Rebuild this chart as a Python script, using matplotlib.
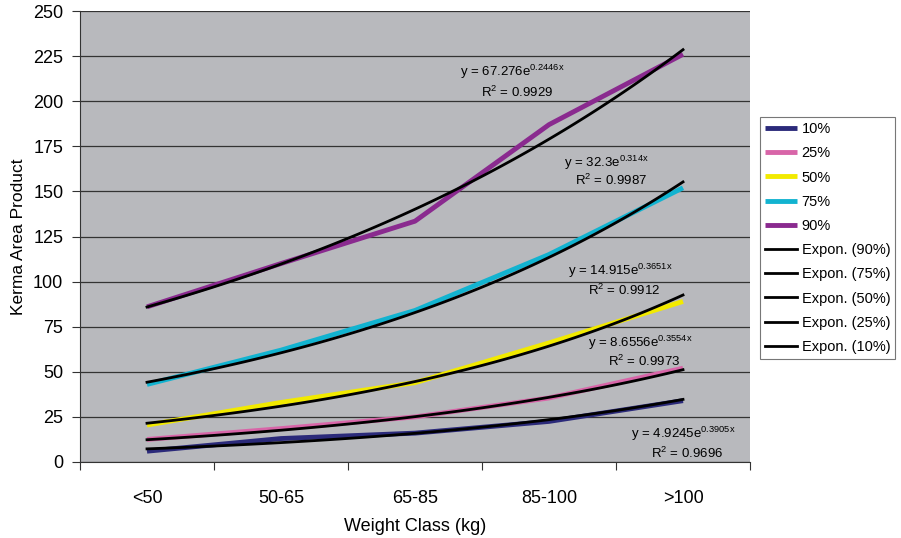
import numpy as np
import matplotlib
matplotlib.use("Agg")
import matplotlib.pyplot as plt

plt.rcParams['font.family'] = ['Liberation Sans', 'DejaVu Sans']
plt.rcParams['mathtext.default'] = 'regular'

# Weight classes and percentile series (Kerma Area Product)
classes = ["<50", "50-65", "65-85", "85-100", ">100"]
p10 = [6, 13, 16, 22.5, 34]
p25 = [12.5, 18.5, 25, 35.5, 52]
p50 = [20.5, 33, 44, 66, 89]
p75 = [43, 62, 84, 115, 152]
p90 = [86, 110, 133.5, 187, 226]

# Exponential trendline coefficients (y = a * e^(b x)) and R^2
fit_a = [67.276, 32.3, 14.915, 8.6556, 4.9245]
fit_b = [0.2446, 0.314, 0.3651, 0.3554, 0.3905]
fit_r2 = ["0.9929", "0.9987", "0.9912", "0.9973", "0.9696"]
fit_names = ["Expon. (90%)", "Expon. (75%)", "Expon. (50%)", "Expon. (25%)", "Expon. (10%)"]

series = [("10%", p10, "#2b2a7a"), ("25%", p25, "#d865a8"),
          ("50%", p50, "#f2ea00"), ("75%", p75, "#12b3d0"),
          ("90%", p90, "#8a2a8f")]

fig = plt.figure(figsize=(9.01, 5.38), dpi=100)
ax = fig.add_axes([80 / 901, 76 / 538, 670 / 901, 451 / 538])
ax.set_facecolor("#b8b9bd")

x = np.arange(1, 6)
handles = []
for name, vals, col in series:
    h, = ax.plot(x, vals, color=col, lw=3.5, label=name, solid_capstyle="butt")
    handles.append(h)

xs = np.linspace(1, 5, 100)
for a, b, nm in zip(fit_a, fit_b, fit_names):
    h, = ax.plot(xs, a * np.exp(b * xs), color="black", lw=2, label=nm)
    handles.append(h)

# equation labels (x, y of equation, y of R^2)
lab_pos = [(3.73, 216, 205), (4.43, 166, 156), (4.53, 106, 95), (4.68, 66, 55.5), (5.0, 15.5, 5)]
for (lx, y1, y2), a, b, r2 in zip(lab_pos, fit_a, fit_b, fit_r2):
    ax.text(lx, y1, "y = %se$^{%sx}$" % (a, b), ha="center", va="center", fontsize=9.5)
    ax.text(lx + 0.03, y2, "R$^{2}$ = %s" % r2, ha="center", va="center", fontsize=9.5)

ax.set_xlim(0.5, 5.5)
ax.set_ylim(0, 250)
ax.set_yticks(np.arange(0, 251, 25))
ax.set_xticks(np.arange(0.5, 5.6, 1))
ax.set_xticklabels([])
ax.set_xticks(x, minor=True)
ax.set_xticklabels(classes, minor=True)
ax.tick_params(axis="x", which="minor", length=0, pad=20, labelsize=13)
ax.tick_params(axis="x", which="major", length=6, direction="out", color="#333333")
ax.tick_params(axis="y", length=6, direction="out", labelsize=13, color="#333333", pad=6)
ax.grid(axis="y", color="#333333", lw=0.9)
ax.set_axisbelow(True)
for s in ["top", "right"]:
    ax.spines[s].set_visible(False)
ax.spines["left"].set_color("#333333")
ax.spines["bottom"].set_color("#333333")

ax.set_xlabel("Weight Class (kg)", fontsize=13, labelpad=8)
ax.set_ylabel("Kerma Area Product", fontsize=12.5, labelpad=5)

leg = fig.legend(handles=handles, loc="upper left", bbox_to_anchor=(760 / 901, 1 - 117 / 538),
                 fontsize=10.5, frameon=True, fancybox=False, edgecolor="#555555",
                 handlelength=2.2, handletextpad=0.3, borderpad=0.35, labelspacing=0.7,
                 borderaxespad=0)
leg.get_frame().set_linewidth(0.8)

fig.savefig("out.png", dpi=100)
